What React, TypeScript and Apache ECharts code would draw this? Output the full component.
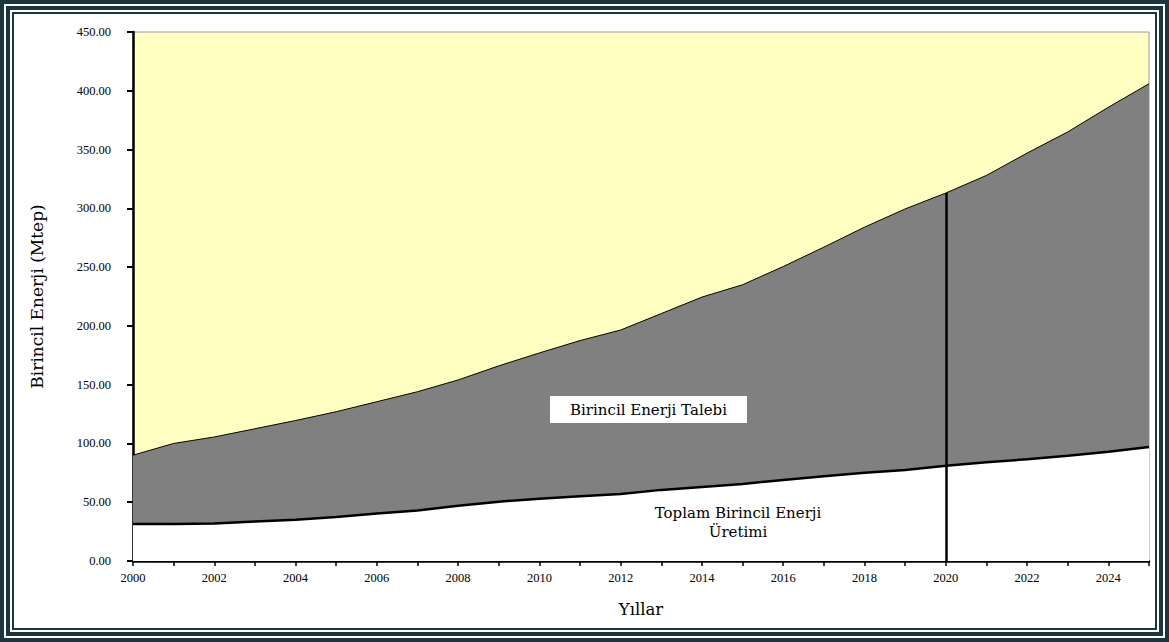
import React, { useEffect, useRef } from "react";
import * as echarts from "echarts";

const years = [2000, 2001, 2002, 2003, 2004, 2005, 2006, 2007, 2008, 2009, 2010, 2011, 2012, 2013, 2014, 2015, 2016, 2017, 2018, 2019, 2020, 2021, 2022, 2023, 2024, 2025];
const demand = [90, 100, 105.5, 112.5, 119.5, 127, 135.5, 144, 154, 166, 177, 187.5, 196.5, 210.5, 224.5, 235, 250.5, 267, 284, 299.5, 313, 328, 347, 365, 386, 406];
const production = [31.5, 31.5, 32, 33.5, 35, 37.5, 40.5, 43, 47, 50.5, 53, 55, 57, 60.5, 63, 65.5, 69, 72, 75, 77.5, 81, 84, 86.5, 89.5, 93, 97];
const markYear = 2020;
const yTicks = [0, 50, 100, 150, 200, 250, 300, 350, 400, 450];

const FONT = "'Liberation Serif', 'DejaVu Serif', serif";
const WFONT = "'DejaVu Serif', 'Liberation Serif', serif";
const FRAME = "#1c3640";

export default function App() {
  const ref = useRef<HTMLDivElement>(null);
  useEffect(() => {
    if (!ref.current) return;
    const chart = echarts.init(ref.current, null, { renderer: "svg" });
    const demandPts = years.map((y, i) => [y, demand[i]]);
    const prodPts = years.map((y, i) => [y, production[i]]);
    const markIdx = years.indexOf(markYear);
    chart.setOption({
      animation: false,
      backgroundColor: "#ffffff",
      grid: {
        left: 133,
        right: 20,
        top: 32,
        bottom: 81,
        show: true,
        backgroundColor: "#FFFFC2",
        borderColor: "#9a9a9a",
        borderWidth: 1,
      },
      xAxis: {
        type: "value",
        min: 2000,
        max: 2025,
        interval: 1,
        name: "Yıllar",
        nameLocation: "middle",
        nameGap: 40,
        nameTextStyle: { fontFamily: WFONT, fontSize: 16.5, color: "#000" },
        axisLine: { show: true, lineStyle: { color: "#000", width: 2.5 } },
        axisTick: { show: true, length: 5, lineStyle: { color: "#000", width: 1.5 } },
        axisLabel: {
          fontFamily: FONT,
          fontSize: 12.5,
          color: "#000",
          margin: 10,
          formatter: (v: number) => (v % 2 === 0 && v < 2025 ? String(v) : ""),
          showMaxLabel: true,
        },
        splitLine: { show: false },
      },
      yAxis: {
        type: "value",
        min: yTicks[0],
        max: yTicks[yTicks.length - 1],
        interval: 50,
        name: "Birincil Enerji (Mtep)",
        nameLocation: "middle",
        nameGap: 88,
        nameRotate: 90,
        nameTextStyle: { fontFamily: WFONT, fontSize: 17, color: "#000" },
        axisLine: { show: true, lineStyle: { color: "#000", width: 2.5 } },
        axisTick: { show: true, length: 6, lineStyle: { color: "#000", width: 2 } },
        axisLabel: {
          fontFamily: FONT,
          fontSize: 12.5,
          color: "#000",
          margin: 22,
          formatter: (v: number) => v.toFixed(2),
        },
        splitLine: { show: false },
      },
      series: [
        {
          name: "Birincil Enerji Talebi",
          type: "line",
          data: demandPts,
          symbol: "none",
          lineStyle: { color: "#000", width: 1 },
          areaStyle: { color: "#808080", opacity: 1 },
          z: 2,
          markLine: {
            silent: true,
            symbol: "none",
            label: { show: false },
            lineStyle: { color: "#000", width: 2.5, type: "solid" },
            data: [
              [
                { coord: [markYear, 0] },
                { coord: [markYear, demand[markIdx]] },
              ],
            ],
          },
        },
        {
          name: "Toplam Birincil Enerji Üretimi",
          type: "line",
          data: prodPts,
          symbol: "none",
          lineStyle: { color: "#000", width: 2.5 },
          areaStyle: { color: "#ffffff", opacity: 1 },
          z: 3,
        },
      ],
      graphic: [
        {
          type: "rect",
          shape: { x: 2, y: 2, width: 1165, height: 638 },
          style: { fill: "none", stroke: FRAME, lineWidth: 4 },
          silent: true,
          z: 100,
        },
        {
          type: "rect",
          shape: { x: 8, y: 8, width: 1153, height: 626 },
          style: { fill: "none", stroke: FRAME, lineWidth: 4 },
          silent: true,
          z: 100,
        },
        {
          type: "rect",
          shape: { x: 13, y: 13, width: 1143, height: 616 },
          style: { fill: "none", stroke: FRAME, lineWidth: 2 },
          silent: true,
          z: 100,
        },
        {
          type: "rect",
          shape: { x: 550, y: 396, width: 197, height: 27 },
          style: { fill: "#ffffff" },
          z: 100,
        },
        {
          type: "text",
          x: 648.5,
          y: 410,
          z: 101,
          style: {
            text: "Birincil Enerji Talebi",
            font: "15px 'DejaVu Serif', serif",
            fill: "#000",
            align: "center",
            verticalAlign: "middle",
          },
        },
        {
          type: "text",
          x: 738,
          y: 513,
          z: 101,
          style: {
            text: "Toplam Birincil Enerji",
            font: "15px 'DejaVu Serif', serif",
            fill: "#000",
            align: "center",
            verticalAlign: "middle",
          },
        },
        {
          type: "text",
          x: 738,
          y: 532,
          z: 101,
          style: {
            text: "Üretimi",
            font: "15px 'DejaVu Serif', serif",
            fill: "#000",
            align: "center",
            verticalAlign: "middle",
          },
        },
      ],
    });
    return () => chart.dispose();
  }, []);
  return (
    <div
      ref={ref}
      style={{ position: "fixed", left: 0, top: 0, width: 1169, height: 642 }}
    />
  );
}
